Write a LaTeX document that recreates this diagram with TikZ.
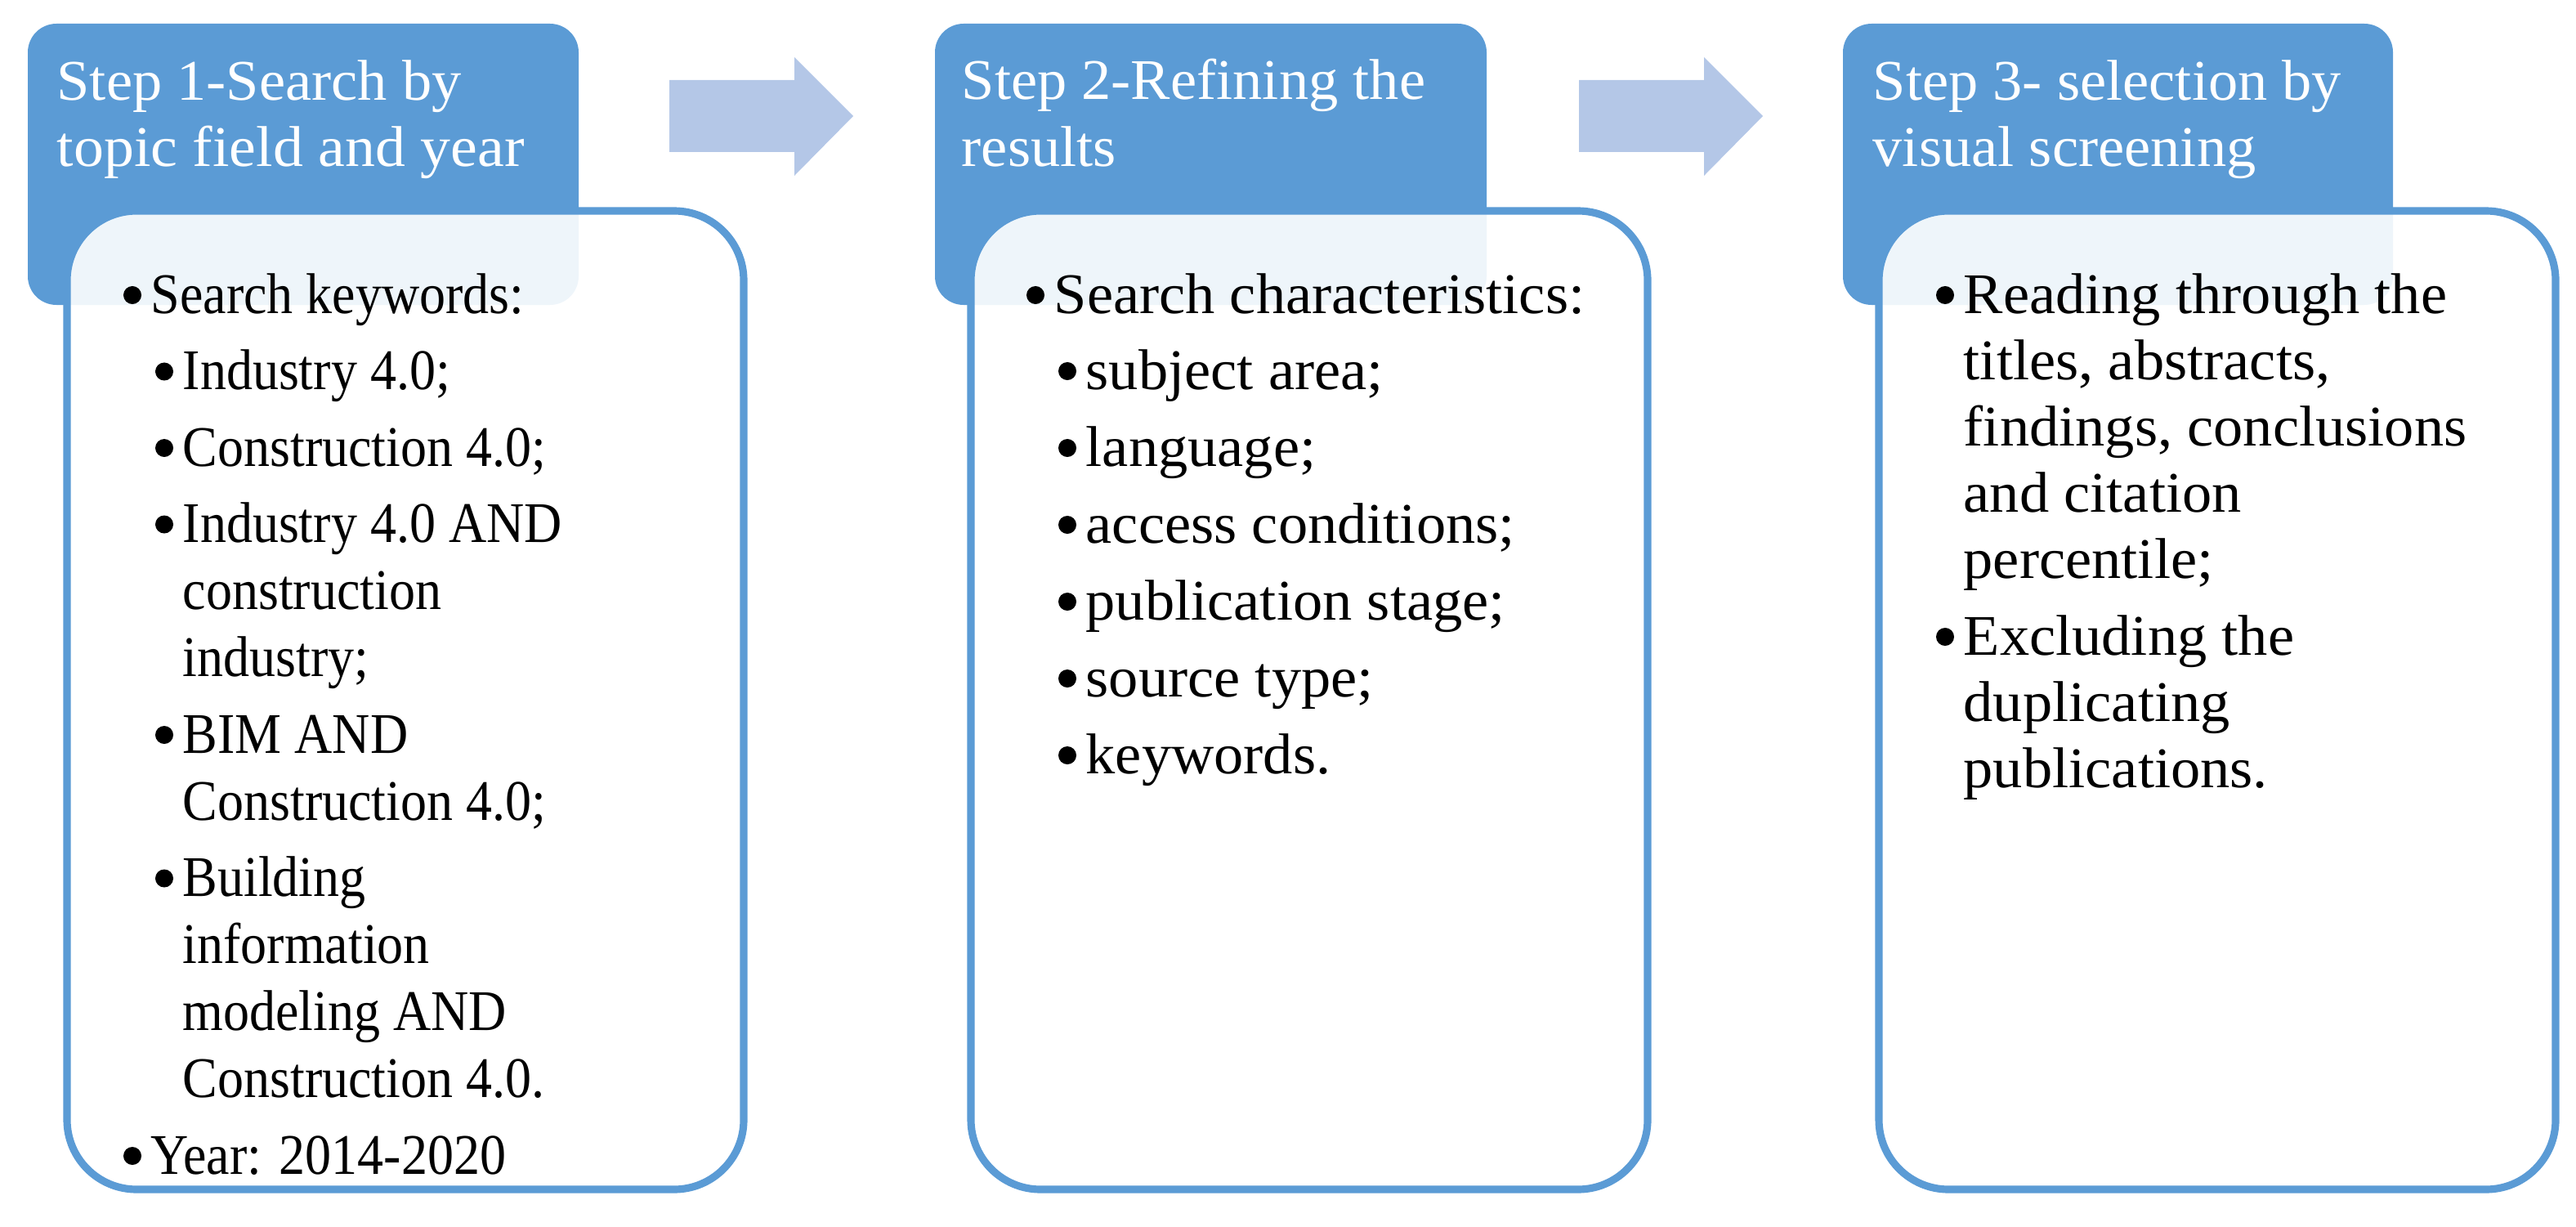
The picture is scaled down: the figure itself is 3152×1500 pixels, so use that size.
\documentclass[tikz,border=0pt]{standalone}
\usepackage{fontspec}
\setmainfont{Liberation Serif}
\definecolor{hdr}{RGB}{91,155,213}
\definecolor{arr}{RGB}{180,199,231}
\newcommand{\wA}[1]{\scalebox{0.91}[1]{#1}}
\newcommand{\wB}[1]{\scalebox{1.03}[1]{#1}}
\newcommand{\wH}[1]{\scalebox{1.03}[1]{#1}}
\tikzset{
  hdrbox/.style={fill=hdr, rounded corners=0.35cm},
  contentbox/.style={draw=hdr, line width=2.6pt, fill=white, fill opacity=0.9, rounded corners=0.85cm},
  flowarrow/.style={fill=arr},
  bulletdot/.style={fill=black},
  htxt/.style={anchor=base west, inner sep=0pt, text=white, font=\fontsize{20pt}{24pt}\selectfont},
  btxt/.style={anchor=base west, inner sep=0pt, text=black, font=\fontsize{20pt}{24pt}\selectfont}
}
\begin{document}
\begin{tikzpicture}[x=0.01cm, y=-0.01cm]
\useasboundingbox (0,0) rectangle (3152,1500);
% headers
\fill[hdrbox] (34,29) rectangle (708,373);
\fill[hdrbox] (1144,29) rectangle (1819,373);
\fill[hdrbox] (2255,29) rectangle (2928,373);
% content boxes
\path[contentbox] (82,258) rectangle (910,1455);
\path[contentbox] (1188,258) rectangle (2016,1455);
\path[contentbox] (2299,258) rectangle (3127,1455);
% arrows
\fill[flowarrow] (819,98) -- (972,98) -- (972,70) -- (1044,142) -- (972,215) -- (972,186) -- (819,186) -- cycle;
\fill[flowarrow] (1932,98) -- (2085,98) -- (2085,70) -- (2157,142) -- (2085,215) -- (2085,186) -- (1932,186) -- cycle;
% header texts
\node[htxt] (h1a) at (69,123) {\wH{Step 1-Search by}};
\node[htxt] (h1b) at (69,203) {\scalebox{1.05}[1]{topic field and year}};
\node[htxt] (h2a) at (1176,122) {\wH{Step 2-Refining the}};
\node[htxt] (h2b) at (1176,203) {\wH{results}};
\node[htxt] (h3a) at (2291,123) {\wH{Step 3- selection by}};
\node[htxt] (h3b) at (2291,203) {\wH{visual screening}};
% bullets (text x - 22, baseline - 22)
\foreach \bx/\by in {162/383, 201/476.5, 201/570, 201/663.5, 201/921, 201/1096.5, 162/1436,
                     1267/383, 1306/476, 1306/570, 1306/664, 1306/758, 1306/852, 1306/946,
                     2380/383, 2380/801}
  \fill[bulletdot] (\bx,\by-22) circle (0.11cm);
% box 1
\node[btxt] (a1) at (184,383) {\wA{Search keywords:}};
\node[btxt] (a2) at (223,476.5) {\wA{Industry 4.0;}};
\node[btxt] (a3) at (223,570) {\wA{Construction 4.0;}};
\node[btxt] (a4) at (223,663.5) {\wA{Industry 4.0 AND}};
\node[btxt] (a5) at (223,745.5) {\wA{construction}};
\node[btxt] (a6) at (223,827.5) {\wA{industry;}};
\node[btxt] (a7) at (223,921) {\wA{BIM AND}};
\node[btxt] (a8) at (223,1003) {\wA{Construction 4.0;}};
\node[btxt] (a9) at (223,1096.5) {\wA{Building}};
\node[btxt] (a10) at (223,1178.5) {\wA{information}};
\node[btxt] (a11) at (223,1260.5) {\wA{modeling AND}};
\node[btxt] (a12) at (223,1342.5) {\wA{Construction 4.0.}};
\node[btxt] (a13) at (184,1436) {\wA{Year: 2014-2020}};
% box 2
\node[btxt] (b1) at (1289,383) {\wB{Search characteristics:}};
\node[btxt] (b2) at (1328,476) {\wB{subject area;}};
\node[btxt] (b3) at (1328,570) {\wB{language;}};
\node[btxt] (b4) at (1328,664) {\wB{access conditions;}};
\node[btxt] (b5) at (1328,758) {\wB{publication stage;}};
\node[btxt] (b6) at (1328,852) {\wB{source type;}};
\node[btxt] (b7) at (1328,946) {\wB{keywords.}};
% box 3
\node[btxt] (c1) at (2402,383) {\wB{Reading through the}};
\node[btxt] (c2) at (2402,464) {\wB{titles, abstracts,}};
\node[btxt] (c3) at (2402,545) {\wB{findings, conclusions}};
\node[btxt] (c4) at (2402,626) {\wB{and citation}};
\node[btxt] (c5) at (2402,707) {\wB{percentile;}};
\node[btxt] (c6) at (2402,801) {\wB{Excluding the}};
\node[btxt] (c7) at (2402,882) {\wB{duplicating}};
\node[btxt] (c8) at (2402,963) {\wB{publications.}};
\end{tikzpicture}
\end{document}
